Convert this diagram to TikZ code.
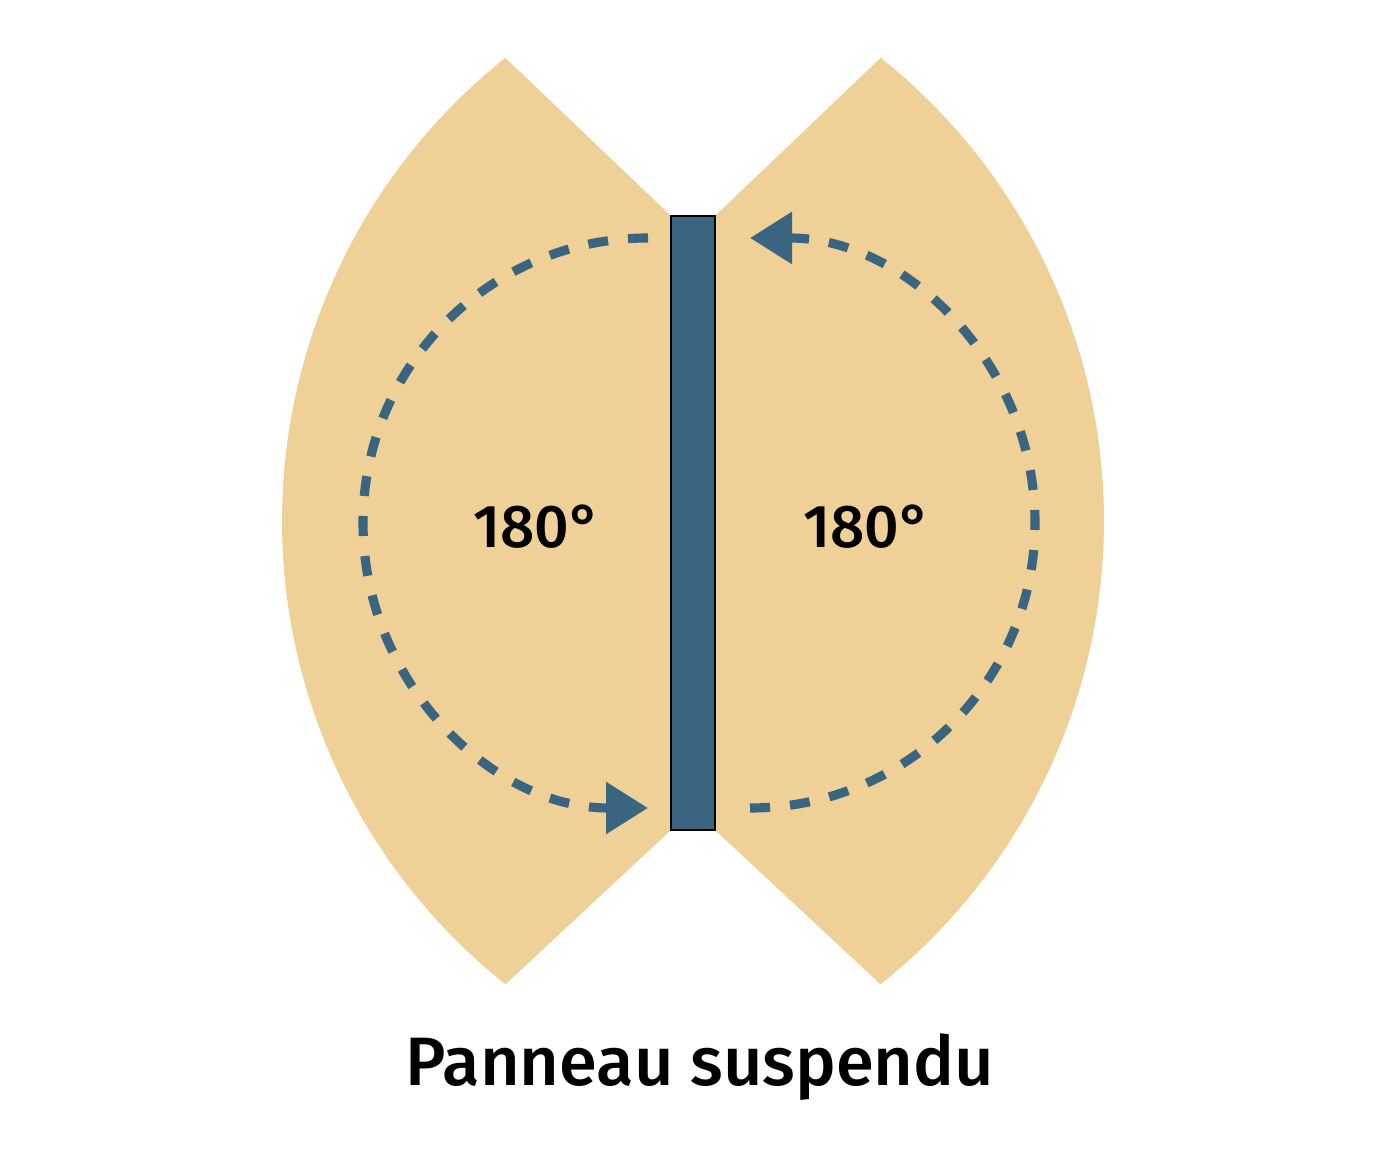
\documentclass[tikz,border=0pt]{standalone}
\usepackage{fontspec}
\usepackage{tikz}
\usetikzlibrary{arrows.meta}
\newfontfamily\labelfont{Fira Sans Medium}
\definecolor{sand}{RGB}{239,208,150}
\definecolor{slate}{RGB}{57,101,128}

\begin{document}
\begin{tikzpicture}[
        swing/.style={slate, line width=2.6pt, dash pattern=on 5.7pt off 5.7pt,
            -{Triangle[length=4.2mm,width=5mm]}},
        angle/.style={font=\labelfont\fontsize{17.2}{19}\selectfont}
    ]
        \useasboundingbox (0,0) rectangle (13.86,11.66);
        % opening areas
        \fill [sand] (5.055,11.08) -- (6.71,9.50) -- (6.71,3.36) -- (5.055,1.817)
            arc [start angle=231.5, end angle=128.5, radius=5.92] -- cycle;
        \fill [sand] (8.805,11.08) -- (7.15,9.50) -- (7.15,3.36) -- (8.805,1.817)
            arc [start angle=-51.5, end angle=51.5, radius=5.92] -- cycle;
        % panel
        \node [draw=black, fill=slate, line width=0.5pt, inner sep=0pt,
            minimum width=0.44cm, minimum height=6.14cm] (panel) at (6.93,6.43) {};
        % swing paths
        \draw [swing] (6.48,9.28) arc [start angle=90, end angle=270, radius=2.85];
        \draw [swing] (7.50,3.58) arc [start angle=-90, end angle=90, radius=2.85];
        \node [angle] (left) at (5.37,6.39) {180°};
        \node [angle] (right) at (8.67,6.39) {180°};
        \node [anchor=base, font=\labelfont\fontsize{19.5}{21}\selectfont] (title) at (7.00,0.81) {Panneau suspendu};
    \end{tikzpicture}
\end{document}
